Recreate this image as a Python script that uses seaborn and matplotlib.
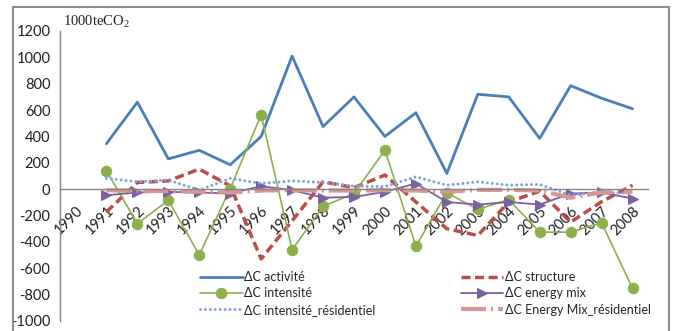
import matplotlib
matplotlib.use("Agg")
import matplotlib.pyplot as plt
import seaborn as sns
import pandas as pd
import numpy as np
from matplotlib.patches import Rectangle

years = [str(y) for y in range(1990, 2009)]
data_years = years[1:]  # values start in 1991

activite = [345, 660, 230, 295, 185, 400, 1010, 475, 700, 400, 580, 120, 720, 700, 385, 785, 690, 610]
structure = [-173, 51, 63, 152, 25, -529, -240, 56, 12, 107, -97, -300, -351, -97, -15, -250, -95, 30]
intensite = [140, -262, -84, -499, 5, 565, -460, -130, -33, 297, -433, -28, -153, -79, -326, -326, -254, -753]
energy_mix = [-46, -25, -20, -25, -33, 23, -8, -64, -59, -20, 43, -97, -117, -97, -117, -33, -25, -71]
intensite_res = [82, 56, 69, -8, 82, 43, 63, 51, 23, 20, 94, 30, 56, 30, 36, -46, -20, -33]
energy_mix_res = [-8, -12, -15, -20, -25, -10, -8, -10, -10, -8, -10, -20, -5, -5, -10, -65, -25, -20]

labels = ["\u0394C activit\u00e9", "\u0394C structure", "\u0394C intensit\u00e9",
          "\u0394C energy mix", "\u0394C intensit\u00e9_r\u00e9sidentiel",
          "\u0394C Energy Mix_r\u00e9sidentiel"]

sns.set_style("white")
plt.rcParams['font.family'] = ['Lato', 'DejaVu Sans']

fig = plt.figure(figsize=(6.81, 3.31), dpi=100)
W, H = 681, 331
ax = fig.add_axes([60 / W, 1 - 321 / H, (648 - 60) / W, (321 - 31) / H])
ax.set_axisbelow(True)

xpos = [years.index(y) for y in data_years]
df = pd.DataFrame({"x": xpos, "activite": activite, "structure": structure,
                   "intensite": intensite, "energy_mix": energy_mix,
                   "intensite_res": intensite_res, "energy_mix_res": energy_mix_res})

styles = [
    ("activite", dict(color="#4A7EBB", lw=2.0, linestyle="-")),
    ("structure", dict(color="#BE4B48", lw=2.5, linestyle=(0, (2.6, 1.3)))),
    ("intensite", dict(color="#8DB04B", lw=1.2, linestyle="-", marker="o", markersize=7.5,
                       markeredgecolor="#8DB04B", markerfacecolor="#8DB04B")),
    ("energy_mix", dict(color="#7D60A0", lw=1.3, linestyle="-", marker=">", markersize=7,
                        markeredgecolor="#7D60A0", markerfacecolor="#7D60A0")),
    ("intensite_res", dict(color="#7FA6DA", lw=2.2, linestyle=(0, (0.01, 1.6)),
                           dash_capstyle="round")),
    ("energy_mix_res", dict(color="#D99694", lw=3.0, linestyle=(0, (6, 1.2, 0.5, 1.2)))),
]

for (col, kw), lab in zip(styles, labels):
    sns.lineplot(data=df, x="x", y=col, ax=ax, label=lab, **kw)

ax.set_xlim(-0.5, 18.5)
ax.set_ylim(-1000, 1200)
ax.set_yticks(np.arange(-1000, 1201, 200))
ax.set_yticklabels([str(v) for v in range(-1000, 1201, 200)])
ax.set_xticks(range(len(years)))
ax.set_xticklabels(years)
ax.set_xticks(np.arange(-0.5, 18.6, 1), minor=True)
ax.set_xlabel("")
ax.set_ylabel("")

for s in ["top", "right"]:
    ax.spines[s].set_visible(False)
ax.spines["bottom"].set_position(("data", 0))
ax.spines["bottom"].set_color("#868686")
ax.spines["left"].set_color("#868686")
ax.spines["bottom"].set_linewidth(1)
ax.spines["left"].set_linewidth(1)
ax.tick_params(axis="y", which="major", direction="out", length=4, color="#868686",
               labelsize=10.5, labelcolor="#222222", pad=3)
ax.tick_params(axis="x", which="major", length=0, labelsize=10.5, labelcolor="#222222",
               pad=10.5, labelrotation=45)
ax.tick_params(axis="x", which="minor", direction="in", length=4, color="#868686")
ax.grid(False)
plt.setp(ax.get_xticklabels(), ha="right", va="top", rotation_mode="anchor")

# legend: two columns, entries ordered column-wise
h, l = ax.get_legend_handles_labels()
order = [0, 2, 4, 1, 3, 5]
leg = ax.legend([h[i] for i in order], [l[i] for i in order], ncol=2, frameon=False,
                loc="upper left", bbox_to_anchor=(200 / W, 1 - 271 / H),
                bbox_transform=fig.transFigure, borderpad=0, borderaxespad=0,
                handlelength=3.4, handletextpad=0.15, columnspacing=6.8,
                labelspacing=0.35, fontsize=9)

fig.text(63 / W, 1 - 22 / H, "1000teCO$_{\\mathregular{2}}$", fontsize=10.5,
         family="Liberation Serif", va="center", ha="left", color="#222222")

fig.patches.append(Rectangle((13 / W, -0.05), (669 - 13) / W, 1 - 7 / H + 0.05,
                             transform=fig.transFigure, fill=False,
                             edgecolor="#8C8C8C", lw=1.5))

fig.savefig("out.png", dpi=100)
